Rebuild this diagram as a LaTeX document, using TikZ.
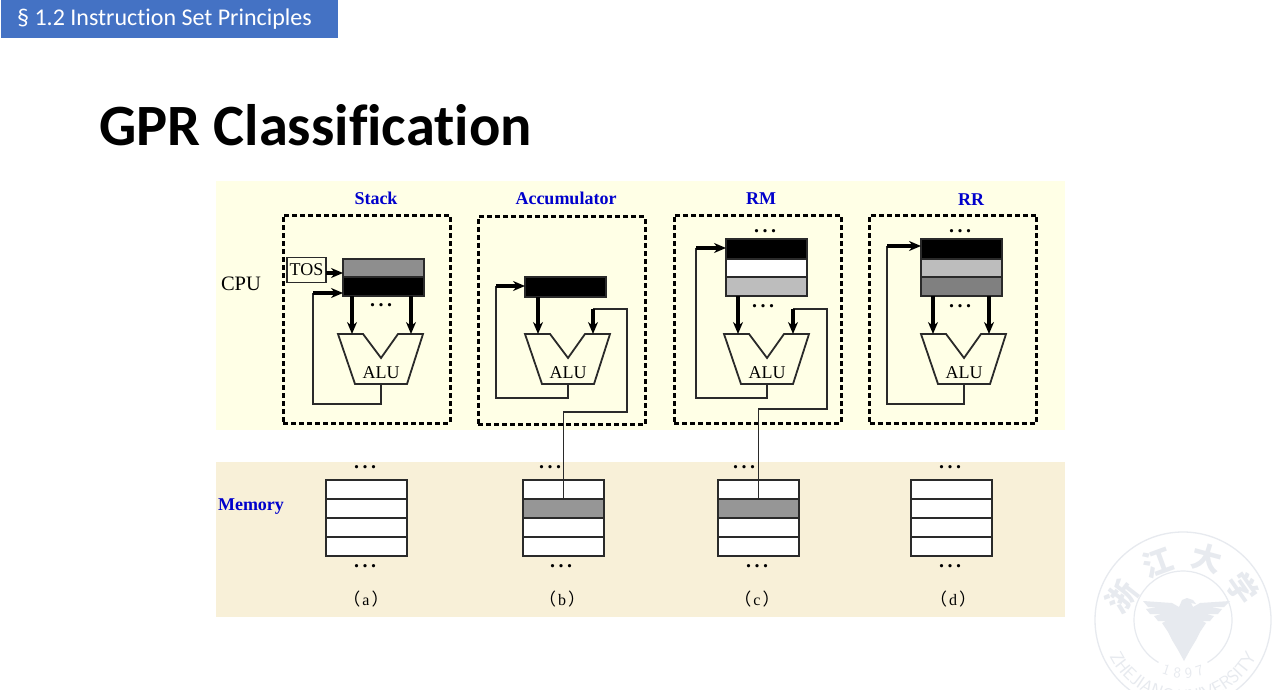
\documentclass[tikz,border=0pt]{standalone}
\usepackage{fontspec}
\usepackage{amsmath, amssymb}
\setmainfont{Liberation Serif}
\newfontfamily\slidefont[Ligatures=NoCommon]{Carlito}
\newfontfamily\cjk{Noto Sans CJK SC}
\usetikzlibrary{arrows.meta,decorations.text}

\definecolor{cpubg}{HTML}{FFFFE6}
\definecolor{membg}{HTML}{F8F0D8}
\definecolor{headblue}{HTML}{4472C4}
\definecolor{labelblue}{HTML}{0000CC}
\definecolor{wirecol}{HTML}{2A2A2A}
\definecolor{regdark}{HTML}{808080}
\definecolor{reglight}{HTML}{BDBDBD}
\definecolor{stackgray}{HTML}{8E8E8E}
\definecolor{memgray}{HTML}{969696}
\definecolor{wmcol}{HTML}{E7EAEF}

\newcommand{\sz}[1]{\fontsize{#1}{#1}\selectfont}
\newcommand{\subcap}[1]{{\cjk\sz{17}（}\kern2pt{\sz{16}#1}\kern2pt{\cjk\sz{17}）}}

\tikzset{
  wire/.style={draw=wirecol,line width=1.8},
  datapath/.style={draw=black,line width=3.2,-{Stealth[length=12pt,width=10pt]}},
  cpubox/.style={draw=black,line width=3,dash pattern=on 5pt off 3pt,minimum width=167,minimum height=208,inner sep=0,outer sep=0},
  regcell/.style={draw=wirecol,line width=1.3,minimum width=81,minimum height=#1,inner sep=0,outer sep=0,anchor=north west},
  memcell/.style={draw=wirecol,line width=1.7,minimum width=81,minimum height=19,inner sep=0,outer sep=0,anchor=north west},
  grouplabel/.style={text=labelblue,font=\sz{18}\bfseries,inner sep=0},
  plainlabel/.style={font=\sz{18},inner sep=0},
  dotsnode/.style={inner sep=0,anchor=base,font=\sz{20}\bfseries},
  wmchar/.style={text=wmcol,font=\cjk\bfseries\sz{30}}
}

% trapezoid with the notch, name and centre x
\newcommand{\aludraw}[2]{
  \draw[wire] (#2-43,334) -- (#2-18,334) -- (#2,358) -- (#2+17,334) -- (#2+42,334) -- (#2+26,384) -- (#2-26,384) -- cycle;
  \node[plainlabel] (#1) at (#2,373) {ALU};
  \coordinate (#1out) at (#2,384);
}

\begin{document}
\begin{tikzpicture}[x=1pt,y=-1pt]
  \clip (0,0) rectangle (1272,690);
  \fill[white] (0,0) rectangle (1272,690);

  % watermark
  \begin{scope}[shift={(1183,620)},yscale=-1]
    \draw[wmcol,line width=1.3] (0,0) circle [radius=88];
    \draw[wmcol,line width=1.2] (-60:49) arc [start angle=-60,end angle=240,radius=49];
    \path[decorate,decoration={text along path,text align=center,
      text={|\sffamily\sz{18}\color{wmcol}|ZHEJIANG UNIVERSITY}}]
      (197:82) arc [start angle=197,end angle=343,radius=82];
    \path[decorate,decoration={text along path,text align=center,
      text={|\sffamily\sz{15}\color{wmcol}|1 8 9 7}}]
      (232:58) arc [start angle=232,end angle=308,radius=58];
  \end{scope}
  \node[wmchar,rotate=52] (wmzhe) at (1122,597) {浙};
  \node[wmchar,rotate=20] (wmjiang) at (1158,563) {江};
  \node[wmchar,rotate=-15] (wmda) at (1207,558) {大};
  \node[wmchar,rotate=-55] (wmxue) at (1243,588) {学};
  \fill[wmcol] (1182,600) -- (1187,598) -- (1193,600) -- (1196,604) -- (1191,603) -- (1193,607)
    -- (1200,603) -- (1230,601) -- (1224,607) -- (1210,607) -- (1222,609) -- (1218,614) -- (1206,614)
    -- (1214,616) -- (1210,621) -- (1202,621) -- (1206,623) -- (1200,632) -- (1196,640) -- (1190,650)
    -- (1184,661) -- (1178,650) -- (1172,640) -- (1168,632) -- (1162,623) -- (1166,621) -- (1158,621)
    -- (1154,616) -- (1162,614) -- (1150,614) -- (1146,609) -- (1158,607) -- (1148,607) -- (1143,601)
    -- (1172,603) -- (1179,607) -- cycle;

  % slide head
  \node[fill=headblue,minimum width=337,minimum height=38,inner sep=0,outer sep=0,anchor=north west] (headbar) at (1,0) {};
  \node[anchor=west,text=white,font=\slidefont\sz{24},inner sep=0] (headtext) at (17,19) {§ 1.2 Instruction Set Principles};
  \node[anchor=west,font=\slidefont\bfseries\sz{58.5},inner sep=0] (title) at (99,125) {GPR Classification};

  % the two bands
  \fill[cpubg] (216,181) rectangle (1065,430);
  \fill[membg] (216,462) rectangle (1065,617);

  \node[plainlabel,font=\sz{20.5}] (cpulabel) at (241,284) {CPU};
  \node[grouplabel] (memlabel) at (251,507) {Memory};
  \node[grouplabel] (stacklabel) at (376,198) {Stack};
  \node[grouplabel] (acclabel) at (566,198) {Accumulator};
  \node[grouplabel] (rmlabel) at (761,199) {RM};
  \node[grouplabel] (rrlabel) at (971,200) {RR};

  \node[cpubox] (stackbox) at (366.5,319) {};
  \node[cpubox] (accbox) at (561.5,320.5) {};
  \node[cpubox] (rmbox) at (757.5,319) {};
  \node[cpubox] (rrbox) at (953,319) {};

  % registers
  \node[regcell=18,fill=stackgray] (stackr1) at (343,259) {};
  \node[regcell=19,fill=black] (stackr2) at (343,277) {};
  \node[regcell=20,fill=black] (accr1) at (525,277) {};
  \node[regcell=20,fill=black] (rmr1) at (726,239) {};
  \node[regcell=18,fill=white] (rmr2) at (726,259) {};
  \node[regcell=19,fill=reglight] (rmr3) at (726,277) {};
  \node[regcell=20,fill=black] (rrr1) at (921,239) {};
  \node[regcell=18,fill=reglight] (rrr2) at (921,259) {};
  \node[regcell=19,fill=regdark] (rrr3) at (921,277) {};

  \node[draw=wirecol,line width=1.5,minimum width=39,minimum height=25,inner sep=0,font=\sz{18}] (tos) at (306.5,270) {\raisebox{-1.5pt}{TOS}};

  \aludraw{stackalu}{381}
  \aludraw{accalu}{568}
  \aludraw{rmalu}{767}
  \aludraw{rralu}{964}

  % alu inputs
  \coordinate (stackin1) at (352,334);
  \coordinate (stackin2) at (411,334);
  \coordinate (accin1) at (538,334);
  \coordinate (accin2) at (593,334);
  \coordinate (rmin1) at (738,334);
  \coordinate (rmin2) at (793,334);
  \coordinate (rrin1) at (933,334);
  \coordinate (rrin2) at (989,334);

  \draw[datapath] (stackr2.south -| stackin1) -- (stackin1);
  \draw[datapath] (stackr2.south -| stackin2) -- (stackin2);
  \draw[datapath] (accr1.south -| accin1) -- (accin1);
  \draw[datapath] (rmr3.south -| rmin1) -- (rmin1);
  \draw[datapath] (rrr3.south -| rrin1) -- (rrin1);
  \draw[datapath] (rrr3.south -| rrin2) -- (rrin2);
  \coordinate (tosout) at (326,273);
  \draw[datapath] (tosout) -- (stackr1.west |- tosout);

  % result back to the registers
  \coordinate (stackturn) at (313,404);
  \coordinate (stackback) at (313,293);
  \coordinate (accturn) at (496,398);
  \coordinate (accback) at (496,286);
  \coordinate (rmturn) at (696,398);
  \coordinate (rmback) at (696,248);
  \coordinate (rrturn) at (887,404);
  \coordinate (rrback) at (887,246);
  \foreach \unit/\reg in {stack/stackr2,acc/accr1,rm/rmr1,rr/rrr1}{
    \draw[wire] (\unit aluout) |- (\unit turn) -- (\unit back);
    \draw[datapath] (\unit back) -- (\reg.west |- \unit back);
  }

  % memory
  \foreach \col/\x/\tone in {a/326/white,b/523/memgray,c/718/memgray,d/911/white}{
    \node[memcell,fill=white] (mem\col1) at (\x,480) {};
    \node[memcell,fill=\tone] (mem\col2) at (\x,499) {};
    \node[memcell,fill=white] (mem\col3) at (\x,518) {};
    \node[memcell,fill=white] (mem\col4) at (\x,537) {};
  }

  % memory operand path
  \coordinate (accbend) at (627,412);
  \coordinate (acctop) at (593,309);
  \coordinate (rmbend) at (827,409);
  \coordinate (rmtop) at (793,309);
  \draw[wire] (memb2.north) |- (accbend) |- (acctop);
  \draw[datapath] (acctop) -- (accin2);
  \draw[wire] (memc2.north) |- (rmbend) |- (rmtop);
  \draw[datapath] (rmtop) -- (rmin2);

  % dots
  \foreach \id/\x/\y in {sm/381/305,rma/765/231,rmb/763/306,rra/960/231,rrb/960/306,
      ma/365/467,mb/550/467,mc/744/467,md/950/467,na/365/566,nb/561/566,nc/757/566,nd/950/566}{
    \node[dotsnode] (dots\id) at (\x,\y+1.5) {.\kern3.5pt.\kern3.5pt.};
  }

  \node[inner sep=0] (capa) at (366,599) {\subcap{a}};
  \node[inner sep=0] (capb) at (562,599) {\subcap{b}};
  \node[inner sep=0] (capc) at (757,599) {\subcap{c}};
  \node[inner sep=0] (capd) at (953,599) {\subcap{d}};
\end{tikzpicture}
\end{document}
